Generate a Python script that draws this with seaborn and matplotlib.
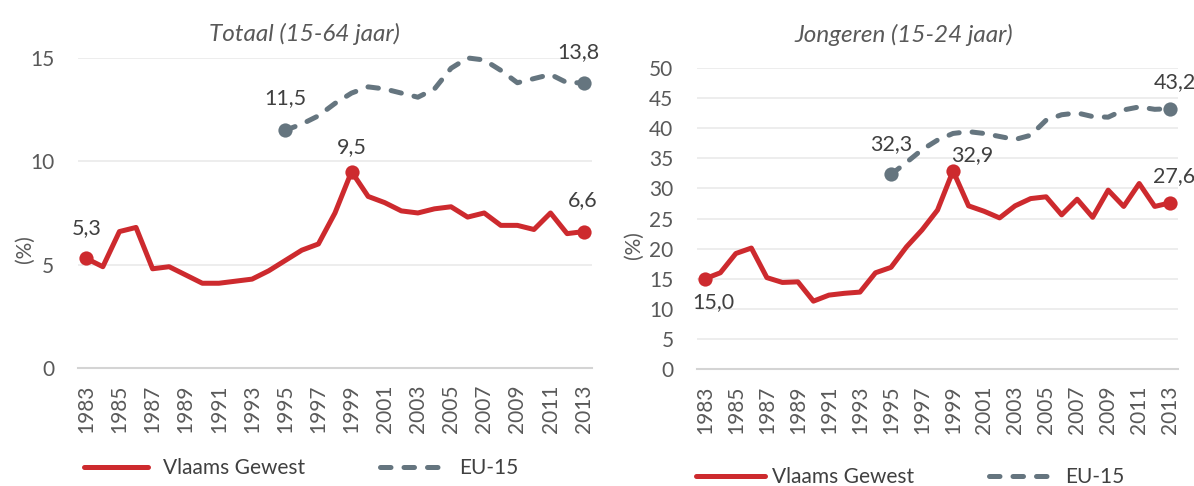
import matplotlib
matplotlib.use("Agg")
import matplotlib.pyplot as plt
import seaborn as sns
import pandas as pd

# Jaartallen en werkloosheidsgraden (%)
years = list(range(1983, 2014))
eu_years = list(range(1995, 2014))

totaal_vl = [5.3, 4.9, 6.6, 6.8, 4.8, 4.9, 4.5, 4.1, 4.1, 4.2, 4.3, 4.7, 5.2, 5.7, 6.0,
             7.5, 9.5, 8.3, 8.0, 7.6, 7.5, 7.7, 7.8, 7.3, 7.5, 6.9, 6.9, 6.7, 7.5, 6.5, 6.6]
totaal_eu = [11.5, 11.8, 12.2, 12.8, 13.3, 13.6, 13.5, 13.3, 13.1, 13.5, 14.5, 15.0, 14.9,
             14.4, 13.8, 14.0, 14.2, 13.8, 13.8]

jong_vl = [15.0, 16.0, 19.2, 20.1, 15.2, 14.4, 14.5, 11.3, 12.3, 12.6, 12.8, 16.0, 16.9, 20.3,
           23.1, 26.4, 32.9, 27.1, 26.2, 25.1, 27.1, 28.3, 28.6, 25.6, 28.2, 25.2, 29.7, 27.0,
           30.8, 27.0, 27.6]
jong_eu = [32.3, 34.3, 36.4, 38.0, 39.1, 39.4, 39.1, 38.6, 38.1, 38.8, 41.3, 42.2, 42.5, 41.9,
           41.8, 43.0, 43.5, 43.1, 43.2]

# jaren met een gelabeld punt
vl_marked = [1983, 1999, 2013]
eu_marked = [1995, 2013]

titles = ["Totaal (15-64 jaar)", "Jongeren (15-24 jaar)"]
series_names = ["Vlaams Gewest", "EU-15"]

RED = "#CD2A2E"
GREY = "#65757F"
TXT = "#595959"
FS = 15

sns.set_style("white")
plt.rcParams['font.family'] = ['Lato', 'DejaVu Sans']

fig = plt.figure(figsize=(11.94, 4.86), dpi=100)
ax1 = fig.add_axes([0.0653, 0.2428, 0.4305, 0.638])
ax2 = fig.add_axes([0.5838, 0.2401, 0.4028, 0.6206])

panels = [
    (ax1, totaal_vl, totaal_eu, 15, [0, 5, 10, 15]),
    (ax2, jong_vl, jong_eu, 50, list(range(0, 51, 5))),
]

# label offsets (points) per gemarkeerd punt
vl_offsets = [[(0, 22), (0, 18), (-1, 23)], [(6, -17), (14, 11), (3, 19)]]
eu_offsets = [[(0, 23), (-4, 22)], [(0, 22), (3, 19)]]
title_x = [0.44, 0.43]
title_pad = [12, 18.5]

for i, (ax, vl, eu, ymax, yt) in enumerate(panels):
    df_vl = pd.DataFrame({"jaar": years, "waarde": vl})
    df_eu = pd.DataFrame({"jaar": eu_years, "waarde": eu})

    sns.lineplot(data=df_vl, x="jaar", y="waarde", ax=ax, color=RED, linewidth=3.6,
                 label=series_names[0], solid_joinstyle="round", solid_capstyle="round",
                 clip_on=False, zorder=3)
    sns.lineplot(data=df_eu, x="jaar", y="waarde", ax=ax, color=GREY, linewidth=3.6,
                 label=series_names[1], linestyle=(0, (2.1, 2.6)), dash_capstyle="round",
                 clip_on=False, zorder=3)

    mv = df_vl[df_vl["jaar"].isin(vl_marked)]
    me = df_eu[df_eu["jaar"].isin(eu_marked)]
    sns.scatterplot(data=mv, x="jaar", y="waarde", ax=ax, color=RED, s=105,
                    edgecolor=RED, linewidth=0, zorder=4, clip_on=False, legend=False)
    sns.scatterplot(data=me, x="jaar", y="waarde", ax=ax, color=GREY, s=105,
                    edgecolor=GREY, linewidth=0, zorder=4, clip_on=False, legend=False)

    for (x, y), off in zip(mv[["jaar", "waarde"]].values, vl_offsets[i]):
        ax.annotate(f"{y:.1f}".replace(".", ","), (x, y), xytext=off, textcoords="offset points",
                    ha="center", va="center", fontsize=FS + 0.5, color="#404040")
    for (x, y), off in zip(me[["jaar", "waarde"]].values, eu_offsets[i]):
        ax.annotate(f"{y:.1f}".replace(".", ","), (x, y), xytext=off, textcoords="offset points",
                    ha="center", va="center", fontsize=FS + 0.5, color="#404040")

    ax.set_xlim(1982.5, 2013.5)
    ax.set_ylim(0, ymax)
    ax.set_yticks(yt)
    ax.set_xticks(list(range(1983, 2014, 2)))
    ax.set_xticklabels([str(y) for y in range(1983, 2014, 2)], rotation=90)
    ax.tick_params(axis="both", length=0, colors=TXT, labelsize=FS)
    ax.tick_params(axis="y", pad=17)
    ax.tick_params(axis="x", pad=12)
    ax.grid(axis="y", color="#ececec", linewidth=1.3)
    ax.set_axisbelow(True)
    for s in ["left", "right", "top"]:
        ax.spines[s].set_visible(False)
    ax.spines["bottom"].set_color("#d4d4d4")
    ax.spines["bottom"].set_linewidth(1.5)
    ax.set_xlabel("")
    ax.set_ylabel("(%)", fontsize=FS, color=TXT)
    ax.set_title(titles[i], fontsize=17.5, style="italic", color=TXT, pad=title_pad[i], x=title_x[i])

ax1.yaxis.set_label_coords(-0.084, 0.384)
ax2.yaxis.set_label_coords(-0.110, 0.412)

ax1.legend(loc="center left", bbox_to_anchor=(84 / 1194, 1 - 468 / 486), bbox_transform=fig.transFigure,
           ncol=2, frameon=False, fontsize=FS, handlelength=3.05, handletextpad=0.75,
           columnspacing=3.6, borderpad=0, borderaxespad=0, labelcolor="#404040")
ax2.legend(loc="center left", bbox_to_anchor=(696 / 1194, 1 - 477 / 486), bbox_transform=fig.transFigure,
           ncol=2, frameon=False, fontsize=FS, handlelength=3.3, handletextpad=0.35,
           columnspacing=3.6, borderpad=0, borderaxespad=0, labelcolor="#404040")

fig.savefig("out.png", dpi=100)
